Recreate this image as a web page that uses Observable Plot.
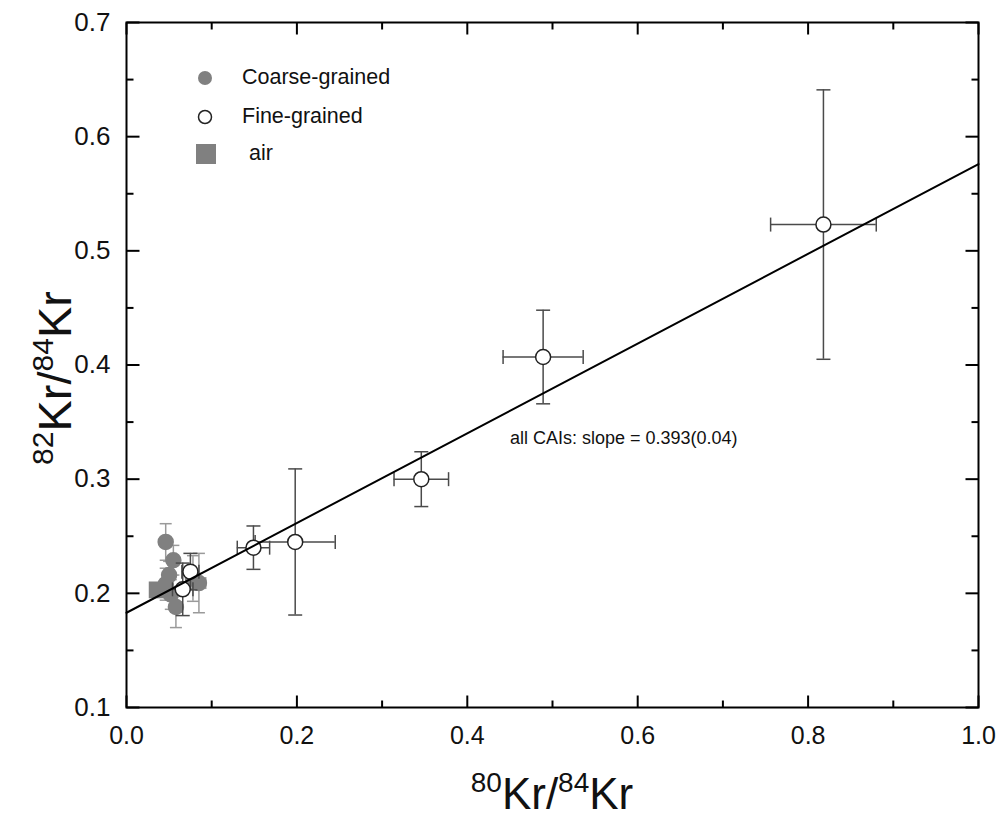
<!DOCTYPE html>
<html><head><meta charset="utf-8">
<script src="https://cdn.jsdelivr.net/npm/d3@7"></script>
<script src="https://cdn.jsdelivr.net/npm/@observablehq/plot@0.6"></script>
<style>
body{margin:0;background:#fff;font-family:"Liberation Sans",Arial,sans-serif;}
#wrap{position:relative;width:1000px;height:818px;}
.lg{position:absolute;font-size:21.5px;color:#111;display:flex;align-items:center;}
</style></head><body><div id="wrap"></div>
<script>
// Fine-grained CAIs (open circles)
const fineX    = [0.818, 0.489, 0.346, 0.198, 0.149, 0.075, 0.066];
const fineY    = [0.523, 0.407, 0.300, 0.245, 0.240, 0.219, 0.2035];
const fineXErr = [0.062, 0.047, 0.032, 0.047, 0.019, 0.010, 0.012];
const fineYErr = [0.118, 0.041, 0.024, 0.064, 0.019, 0.016, 0.023];
// Coarse-grained CAIs (filled grey circles)
const coarseX    = [0.046, 0.055, 0.050, 0.046, 0.052, 0.058, 0.085, 0.078];
const coarseY    = [0.245, 0.229, 0.216, 0.208, 0.199, 0.188, 0.209, 0.213];
const coarseXErr = [0.004, 0.005, 0.004, 0.005, 0.006, 0.006, 0.008, 0.008];
const coarseYErr = [0.016, 0.013, 0.012, 0.014, 0.013, 0.018, 0.026, 0.020];
// Air
const airX = [0.036];
const airY = [0.203];
// Fit
const fitSlope = 0.393;
const fitIntercept = 0.183;
const fitXs = [0, 1];
const fitLabel = "all CAIs: slope = 0.393(0.04)";
const fitLabelAt = {x: 0.45, y: 0.336};
// Axes
const xDomain = [0, 1];
const yDomain = [0.1, 0.7];
const xMajorTicks = [0, 0.2, 0.4, 0.6, 0.8, 1.0];
const xMinorTicks = [0.1, 0.3, 0.5, 0.7, 0.9];
const yMajorTicks = [0.1, 0.2, 0.3, 0.4, 0.5, 0.6, 0.7];
const yMinorTicks = [0.15, 0.25, 0.35, 0.45, 0.55, 0.65];
const legendLabels = ["Coarse-grained", "Fine-grained", "air"];

const fine = fineX.map((x, i) => ({x, y: fineY[i], ex: fineXErr[i], ey: fineYErr[i]}));
const coarse = coarseX.map((x, i) => ({x, y: coarseY[i], ex: coarseXErr[i], ey: coarseYErr[i]}));
const air = airX.map((x, i) => ({x, y: airY[i]}));
const fit = fitXs.map(x => ({x, y: fitIntercept + fitSlope * x}));

const hCap = {draw(c, s){const r = Math.sqrt(s/Math.PI); c.moveTo(-r,0); c.lineTo(r,0);}};
const vCap = {draw(c, s){const r = Math.sqrt(s/Math.PI); c.moveTo(0,-r); c.lineTo(0,r);}};
const tUp = {draw(c, s){const r = Math.sqrt(s/Math.PI); c.moveTo(0,0); c.lineTo(0,-r);}};
const tDown = {draw(c, s){const r = Math.sqrt(s/Math.PI); c.moveTo(0,0); c.lineTo(0,r);}};
const tRight = {draw(c, s){const r = Math.sqrt(s/Math.PI); c.moveTo(0,0); c.lineTo(r,0);}};
const tLeft = {draw(c, s){const r = Math.sqrt(s/Math.PI); c.moveTo(0,0); c.lineTo(-r,0);}};

function errMarks(data, color, capR, sw){
  return [
    Plot.ruleX(data, {x: "x", y1: d => d.y - d.ey, y2: d => d.y + d.ey, stroke: color, strokeWidth: sw}),
    Plot.ruleY(data, {y: "y", x1: d => d.x - d.ex, x2: d => d.x + d.ex, stroke: color, strokeWidth: sw}),
    Plot.dot(data, {x: "x", y: d => d.y - d.ey, symbol: hCap, r: capR, stroke: color, strokeWidth: sw}),
    Plot.dot(data, {x: "x", y: d => d.y + d.ey, symbol: hCap, r: capR, stroke: color, strokeWidth: sw}),
    Plot.dot(data, {x: d => d.x - d.ex, y: "y", symbol: vCap, r: capR, stroke: color, strokeWidth: sw}),
    Plot.dot(data, {x: d => d.x + d.ex, y: "y", symbol: vCap, r: capR, stroke: color, strokeWidth: sw})
  ];
}

const tickStyle = {stroke: "#000", strokeWidth: 2};
const chart = Plot.plot({
  width: 1000, height: 818,
  marginLeft: 126, marginRight: 22, marginTop: 22, marginBottom: 111,
  style: {fontFamily: '"Liberation Sans", Arial, sans-serif', background: "#fff", color: "#111", fontSize: "25px"},
  x: {domain: xDomain, label: null},
  y: {domain: yDomain, label: null},
  marks: [
    ...errMarks(coarse, "#9a9a9a", 6, 1.5),
    Plot.dot(coarse, {x: "x", y: "y", r: 7.5, fill: "#808080", stroke: "#808080"}),
    Plot.dot(air, {x: "x", y: "y", symbol: "square", r: 9.5, fill: "#808080"}),
    ...errMarks(fine, "#4a4a4a", 7, 1.5),
    Plot.dot(fine, {x: "x", y: "y", r: 7.5, fill: "#fff", stroke: "#222", strokeWidth: 1.5}),
    Plot.line(fit, {x: "x", y: "y", stroke: "#000", strokeWidth: 2}),
    Plot.text([fitLabel], {x: fitLabelAt.x, y: fitLabelAt.y, text: d => d, textAnchor: "start", fontSize: 18, fill: "#111"}),
    Plot.frame({stroke: "#000", strokeWidth: 2}),
    // inward ticks
    Plot.dot(xMajorTicks, {x: d => d, y: yDomain[0], symbol: tUp, r: 12, ...tickStyle}),
    Plot.dot(xMinorTicks, {x: d => d, y: yDomain[0], symbol: tUp, r: 7, ...tickStyle}),
    Plot.dot(xMajorTicks, {x: d => d, y: yDomain[1], symbol: tDown, r: 12, ...tickStyle}),
    Plot.dot(xMinorTicks, {x: d => d, y: yDomain[1], symbol: tDown, r: 7, ...tickStyle}),
    Plot.dot(yMajorTicks, {y: d => d, x: xDomain[0], symbol: tRight, r: 13, ...tickStyle}),
    Plot.dot(yMinorTicks, {y: d => d, x: xDomain[0], symbol: tRight, r: 7, ...tickStyle}),
    Plot.dot(yMajorTicks, {y: d => d, x: xDomain[1], symbol: tLeft, r: 13, ...tickStyle}),
    Plot.dot(yMinorTicks, {y: d => d, x: xDomain[1], symbol: tLeft, r: 7, ...tickStyle}),
    Plot.axisX({ticks: xMajorTicks, tickSize: 0, tickPadding: 19, tickFormat: d3.format(".1f"), label: null}),
    Plot.axisY({ticks: yMajorTicks, tickSize: 0, tickPadding: 16, tickFormat: d3.format(".1f"), label: null})
  ]
});
document.getElementById("wrap").appendChild(chart);

// axis titles with superscripts
const svg = d3.select(chart);
svg.selectAll('g[aria-label="x-axis tick label"]').attr("font-size", 25).style("font-size", "25px");
svg.selectAll('g[aria-label="y-axis tick label"]').attr("font-size", 26).style("font-size", "26px");
function isoLabel(g, a, b, big, sup, sh){
  g.append("tspan").attr("font-size", sup).attr("dy", -sh).text(a);
  g.append("tspan").attr("font-size", big).attr("dy", sh).text("Kr/");
  g.append("tspan").attr("font-size", sup).attr("dy", -sh).text(b);
  g.append("tspan").attr("font-size", big).attr("dy", sh).text("Kr");
}
const xl = svg.append("text").attr("x", 552).attr("y", 809).attr("text-anchor", "middle").attr("fill", "#111");
isoLabel(xl, "80", "84", 44, 28, 17);
const yl = svg.append("text").attr("transform", "translate(71,378) rotate(-90)").attr("text-anchor", "middle").attr("fill", "#111");
isoLabel(yl, "82", "84", 47, 30, 18);

// legend
const wrap = document.getElementById("wrap");
const rows = [
  {top: 65, sym: '<svg width="20" height="20"><circle cx="10" cy="10" r="7" fill="#808080"/></svg>', gap: 37},
  {top: 104, sym: '<svg width="20" height="20"><circle cx="10" cy="10" r="6.5" fill="#fff" stroke="#222" stroke-width="1.5"/></svg>', gap: 37},
  {top: 141, sym: '<svg width="22" height="22"><rect x="1" y="1" width="20" height="20" fill="#808080"/></svg>', gap: 42}
];
rows.forEach((r, i) => {
  const d = document.createElement("div");
  d.className = "lg";
  d.style.left = "195px";
  d.style.top = r.top + "px";
  d.innerHTML = r.sym + `<span style="margin-left:${r.gap - 10}px">${legendLabels[i]}</span>`;
  wrap.appendChild(d);
});
</script>
</body></html>
